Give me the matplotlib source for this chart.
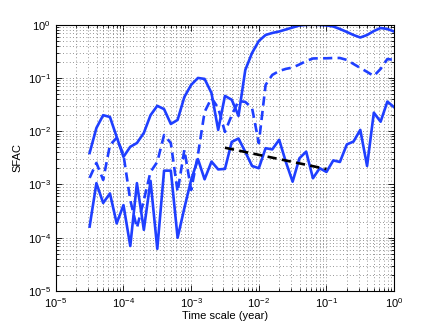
import matplotlib
matplotlib.use("Agg")
import matplotlib.pyplot as plt

plt.rcParams['font.family'] = ['Liberation Sans', 'DejaVu Sans']
plt.rcParams['mathtext.default'] = 'regular'

# time scale (year)
time_yr = [3.16e-5, 3.98e-5, 5.01e-5, 6.31e-5, 7.94e-5,
           1.00e-4, 1.26e-4, 1.58e-4, 2.00e-4, 2.51e-4, 3.16e-4, 3.98e-4, 5.01e-4, 6.31e-4, 7.94e-4,
           1.00e-3, 1.26e-3, 1.58e-3, 2.00e-3, 2.51e-3, 3.16e-3, 3.98e-3, 5.01e-3, 6.31e-3, 7.94e-3,
           1.00e-2, 1.26e-2, 1.58e-2, 2.00e-2, 2.51e-2, 3.16e-2, 3.98e-2, 5.01e-2, 6.31e-2, 7.94e-2,
           1.00e-1, 1.26e-1, 1.58e-1, 2.00e-1, 2.51e-1, 3.16e-1, 3.98e-1, 5.01e-1, 6.31e-1, 7.94e-1,
           1.00]

sfac_upper = [3.9e-3, 1.15e-2, 2.0e-2, 1.85e-2, 7.8e-3, 3.3e-3, 5.1e-3, 6.0e-3, 9.3e-3, 2.0e-2,
              3.0e-2, 2.6e-2, 1.37e-2, 1.63e-2, 4.4e-2, 7.4e-2, 0.100, 0.096, 0.052, 1.06e-2,
              4.6e-2, 3.9e-2, 1.94e-2, 0.141, 0.294, 0.494, 0.641, 0.699, 0.745, 0.813,
              0.886, 0.966, 0.99, 1.0, 0.99, 0.97, 0.925, 0.83, 0.73, 0.64,
              0.575, 0.64, 0.76, 0.867, 0.83, 0.745]

sfac_mid = [1.33e-3, 2.54e-3, 1.22e-3, 5.5e-3, 7.5e-3, 3.6e-3, 5.1e-4, 1.53e-4, 5.1e-4, 1.72e-3,
            2.65e-3, 8.5e-3, 6.0e-3, 7.3e-4, 4.46e-3, 7.9e-4, 3.6e-3, 2.3e-2, 4.2e-2, 2.74e-2,
            9.7e-3, 2.0e-2, 3.7e-2, 3.55e-2, 2.74e-2, 6.0e-3, 7.4e-2, 0.114, 0.135, 0.148,
            0.157, 0.179, 0.208, 0.232, 0.234, 0.234, 0.237, 0.237, 0.218, 0.183,
            0.154, 0.130, 0.109, 0.148, 0.227, 0.218]

sfac_lower = [1.62e-4, 1.06e-3, 4.5e-4, 6.8e-4, 1.86e-4, 4.1e-4, 7.0e-5, 1.06e-3, 1.41e-4, 1.17e-3,
              6.2e-5, 1.82e-3, 1.82e-3, 1.0e-4, 3.6e-4, 1.22e-3, 3.0e-3, 1.25e-3, 2.69e-3, 1.92e-3,
              1.96e-3, 6.3e-3, 7.3e-3, 4.1e-3, 2.23e-3, 2.02e-3, 4.8e-3, 4.56e-3, 6.9e-3, 2.65e-3,
              1.13e-3, 3.1e-3, 4.14e-3, 1.31e-3, 2.02e-3, 1.72e-3, 2.83e-3, 2.65e-3, 5.65e-3, 6.4e-3,
              1.06e-2, 2.23e-3, 2.23e-2, 1.51e-2, 3.6e-2, 2.82e-2]

# fitted trend
fit_t = [3.16e-3, 1.0e-1]
fit_s = [4.9e-3, 1.95e-3]

blue = '#1f3fff'

fig = plt.figure(figsize=(4.36, 3.27), dpi=100)
ax = fig.add_axes([0.128, 0.110, 0.776, 0.8145])

ax.loglog(time_yr, sfac_upper, color=blue, lw=1.9)
ax.loglog(time_yr, sfac_mid, color=blue, lw=1.9, dashes=(3.5, 2))
ax.loglog(time_yr, sfac_lower, color=blue, lw=1.9)
ax.loglog(fit_t, fit_s, color='black', lw=1.9, dashes=(3.5, 2))

ax.set_xlim(1e-5, 1)
ax.set_ylim(1e-5, 1)
ax.grid(True, which='both', linestyle=(0, (1, 3)), linewidth=0.6, color='0.45')
ax.tick_params(which='both', direction='in', top=True, right=True, labelsize=8, width=0.6)
ax.tick_params(which='major', length=4)
ax.tick_params(which='minor', length=2)
for s in ax.spines.values():
    s.set_linewidth(0.8)
ax.set_xlabel('Time scale (year)', fontsize=8, labelpad=1)
ax.set_ylabel('SFAC', fontsize=8)

fig.savefig('out.png', dpi=100)
